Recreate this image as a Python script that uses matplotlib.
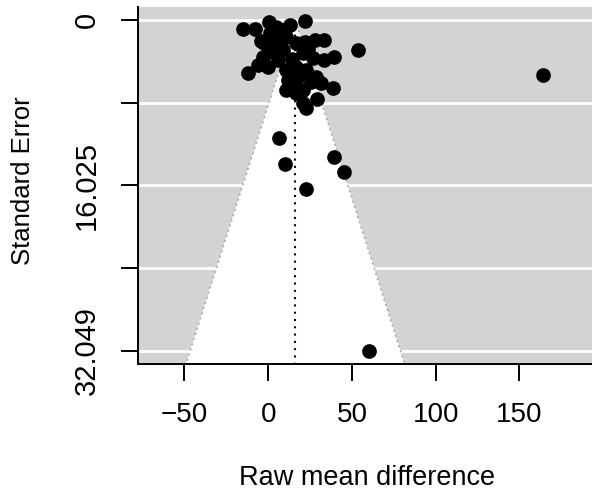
import matplotlib
matplotlib.use("Agg")
import matplotlib.pyplot as plt
import numpy as np

# ---- data ----
effect = [-15.2, -7.6, 0.4, 4.8, 13.1, 21.7,
          -2.2, 4.8, 10.7, 16.7, 21.7, 27.7, 33.2, 1.0, 8.0,
          -3.2, 2.8, 8.7, 20.7, 26.7, 33.6, 39.6, 53.5,
          -12.2, -6.2, -0.2, 5.8, 10.7, 16.7, 22.7, 28.7,
          10.7, 14.7, 20.7, 25.7, 31.6, 38.6, 29.3, 22.7, 16.7, 20.7,
          1.5, -4.0, 14.0, 18.0, 24.0, 12.0,
          164.0, 6.2, 10.3, 39.4, 45.0, 22.7, 60.0]
std_err = [0.9, 0.9, 0.16, 0.65, 0.48, 0.07,
           2.26, 1.94, 1.6, 2.26, 2.1, 1.94, 1.94, 1.3, 1.0,
           3.55, 3.07, 2.9, 3.23, 3.71, 3.88, 3.62, 2.9,
           5.1, 4.36, 4.52, 3.88, 4.84, 4.52, 4.84, 5.49,
           6.78, 6.14, 6.78, 5.98, 6.14, 6.62, 7.65, 8.56, 7.1, 8.0,
           2.8, 2.0, 3.8, 5.5, 2.8, 5.8,
           5.33, 11.46, 13.95, 13.24, 14.76, 16.41, 32.049]
estimate = 16.2
y_ticks = [0, 8.012, 16.025, 24.037, 32.049]
y_ticklabels = ["0", "", "16.025", "", "32.049"]
x_ticks = [-50, 0, 50, 100, 150]
x_ticklabels = ["\u221250", "0", "50", "100", "150"]

plt.rcParams['font.family'] = ['Liberation Sans', 'DejaVu Sans']

fig = plt.figure(figsize=(5.92, 4.95), dpi=100)
W, H = 592, 495
left_px, right_px, top_px, bot_px = 138, 595.3, 7, 363.5
ax = fig.add_axes([left_px / W, (H - bot_px) / H, (right_px - left_px) / W, (bot_px - top_px) / H])

xmin, xmax = -77.7, 195.3
ymin, ymax = -1.26, 33.28
ax.set_xlim(xmin, xmax)
ax.set_ylim(ymax, ymin)

ax.set_facecolor('#D3D3D3')

# funnel region
se_far = 40
z = 1.96
poly_x = [estimate - z * se_far, estimate, estimate + z * se_far]
poly_y = [se_far, 0, se_far]
ax.fill(poly_x, poly_y, color='white', zorder=1, lw=0)

# grid lines
for yt in y_ticks:
    ax.axhline(yt, color='white', lw=2, zorder=2)

# funnel edges
ax.plot([estimate - z * se_far, estimate, estimate + z * se_far], [se_far, 0, se_far],
        color='#A9A9A9', lw=1.3, ls=(0, (1, 2)), zorder=3)
# vertical estimate line
ax.plot([estimate, estimate], [0, se_far], color='black', lw=1.5, ls=(0, (1, 2.5)), zorder=3)

ax.scatter(effect, std_err, s=112, color='black', zorder=4, lw=0)

ax.set_yticks(y_ticks)
ax.set_yticklabels(y_ticklabels, rotation=90, va='center', fontsize=21)
ax.set_xticks(x_ticks)
ax.set_xticklabels(x_ticklabels, fontsize=20)

ax.tick_params(axis='both', direction='out', length=12, width=1.4, color='black')
ax.tick_params(axis='y', pad=15)
ax.tick_params(axis='x', pad=16)

for s in ['top', 'right']:
    ax.spines[s].set_visible(False)
for s in ['left', 'bottom']:
    ax.spines[s].set_linewidth(1.4)

ax.set_xlabel("Raw mean difference", fontsize=19.5)
ax.xaxis.set_label_coords(0.5, -(478 - bot_px) / (bot_px - top_px))
ax.xaxis.label.set_va('center')
ax.set_ylabel("Standard Error", fontsize=18.5)
ax.yaxis.set_label_coords(-(left_px - 23) / (right_px - left_px), 0.514)
ax.yaxis.label.set_va('center')

fig.savefig("out.png", dpi=100)
